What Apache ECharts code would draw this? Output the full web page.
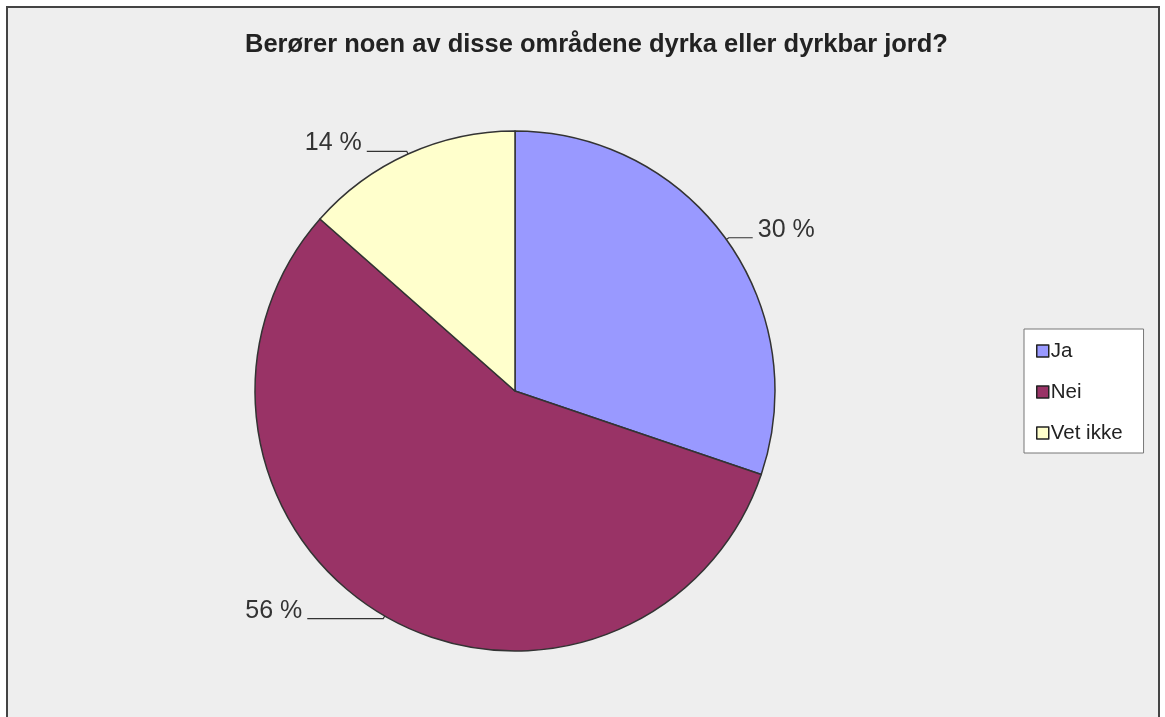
<!DOCTYPE html>
<html>
<head>
<meta charset="utf-8">
<script src="https://cdn.jsdelivr.net/npm/echarts@6/dist/echarts.min.js"></script>
<style>
html,body{margin:0;padding:0;background:#fff;}
#c{width:1165px;height:717px;}
</style>
</head>
<body>
<div id="c"></div>
<script>
const titleText = 'Berører noen av disse områdene dyrka eller dyrkbar jord?';
const categories = ['Ja', 'Nei', 'Vet ikke'];
const values = [30.2, 56.3, 13.5];
const colors = ['#9999ff', '#993366', '#ffffcc'];
const leaderLengths = [24, 76, 40];

const chart = echarts.init(document.getElementById('c'));
const data = categories.map((name, i) => ({
  name: name,
  value: values[i],
  itemStyle: { color: colors[i] },
  labelLine: { length: 3, length2: leaderLengths[i] }
}));

chart.setOption({
  backgroundColor: '#ffffff',
  animation: false,
  graphic: [{
    type: 'rect',
    z: -10,
    silent: true,
    shape: { x: 7, y: 7, width: 1152, height: 800 },
    style: { fill: '#eeeeee', stroke: '#444444', lineWidth: 2 }
  }],
  title: {
    text: titleText,
    left: 240,
    top: 27,
    textStyle: {
      fontFamily: 'Liberation Sans, Arial, sans-serif',
      fontSize: 25.5,
      fontWeight: 'bold',
      color: '#222222'
    }
  },
  legend: {
    orient: 'vertical',
    left: 1024,
    top: 329,
    data: categories,
    backgroundColor: '#ffffff',
    borderColor: '#777777',
    borderWidth: 1,
    borderRadius: 0,
    padding: [11, 21, 9, 12],
    itemWidth: 12,
    itemHeight: 12,
    itemGap: 19,
    icon: 'rect',
    textStyle: {
      fontFamily: 'Liberation Sans, Arial, sans-serif',
      fontSize: 20.5,
      lineHeight: 22,
      color: '#222222',
      padding: [0, 0, 0, -3]
    },
    itemStyle: { borderColor: '#222222', borderWidth: 1.5 }
  },
  series: [{
    type: 'pie',
    center: [515, 391],
    radius: 260,
    startAngle: 90,
    clockwise: true,
    avoidLabelOverlap: false,
    data: data,
    itemStyle: { borderColor: '#333333', borderWidth: 1.5 },
    label: {
      show: true,
      formatter: p => '{t|' + Math.round(p.value) + ' %}\n{s|}',
      distanceToLabelLine: 5,
      rich: {
        t: {
          fontFamily: 'Liberation Sans, Arial, sans-serif',
          fontSize: 25,
          lineHeight: 26,
          color: '#333333'
        },
        s: { height: 16, lineHeight: 16, fontSize: 1 }
      }
    },
    labelLine: {
      show: true,
      lineStyle: { color: '#333333', width: 1.2 }
    },
    emphasis: { disabled: true }
  }]
});
</script>
</body>
</html>
